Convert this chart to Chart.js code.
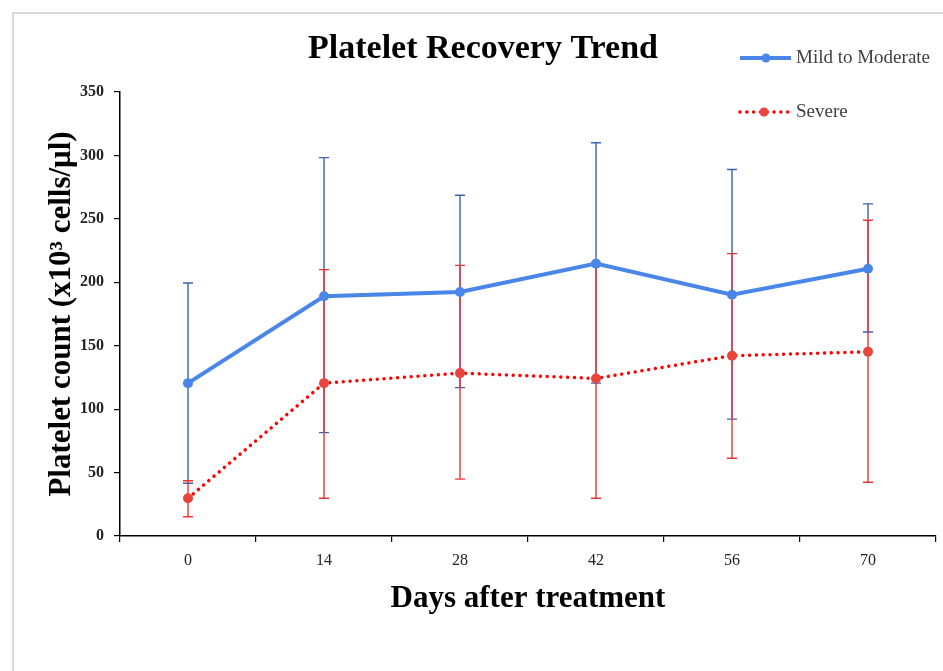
<!DOCTYPE html>
<html>
<head>
<meta charset="utf-8">
<title>Platelet Recovery Trend</title>
<script src="https://cdn.jsdelivr.net/npm/chart.js@4.4.1/dist/chart.umd.min.js"></script>
<style>
    html, body { margin: 0; padding: 0; background: #fff; }
    #wrap { width: 943px; height: 671px; }
</style>
</head>
<body>
<div id="wrap"><canvas id="plateletChart" width="943" height="671"></canvas></div>
<script>
// Days after treatment
var days = ['0', '14', '28', '42', '56', '70'];
var yTicks = [0, 50, 100, 150, 200, 250, 300, 350];

// Mild to Moderate: mean, lower and upper end of error bar
var mildMean = [120.5, 189, 192.3, 214.7, 190.2, 210.7];
var mildLow = [41.6, 81.5, 117, 120.5, 92.1, 160.8];
var mildHigh = [199.4, 298.3, 268.6, 310, 288.9, 261.8];

// Severe
var severeMean = [29.8, 120.5, 128.4, 124.2, 142.1, 145.2];
var severeLow = [15.2, 29.8, 44.8, 29.8, 61.3, 42.4];
var severeHigh = [43.6, 210, 213.3, 214.5, 222.6, 248.9];

var serif = "'Liberation Serif', 'Times New Roman', serif";

// Error bars are drawn under the lines and markers
var errorBars = {
    id: 'errorBars',
    beforeDatasetsDraw: function (chart) {
        var ctx = chart.ctx;
        var y = chart.scales.y;
        chart.data.datasets.forEach(function (ds, di) {
            var meta = chart.getDatasetMeta(di);
            ctx.save();
            ctx.strokeStyle = ds.errorColor;
            ctx.lineWidth = 1.4;
            meta.data.forEach(function (pt, i) {
                var yl = y.getPixelForValue(ds.errLow[i]);
                var yh = y.getPixelForValue(ds.errHigh[i]);
                ctx.beginPath();
                ctx.moveTo(pt.x, yl);
                ctx.lineTo(pt.x, yh);
                ctx.moveTo(pt.x - 5, yl);
                ctx.lineTo(pt.x + 5, yl);
                ctx.moveTo(pt.x - 5, yh);
                ctx.lineTo(pt.x + 5, yh);
                ctx.stroke();
            });
            ctx.restore();
        });
    }
};

// Frame, title and legend in the top right corner
var decorations = {
    id: 'decorations',
    afterDraw: function (chart) {
        var ctx = chart.ctx;
        ctx.save();
        ctx.strokeStyle = '#d9d9d9';
        ctx.lineWidth = 2;
        ctx.beginPath();
        ctx.moveTo(13, 671);
        ctx.lineTo(13, 13);
        ctx.lineTo(943, 13);
        ctx.stroke();

        ctx.fillStyle = '#000';
        ctx.font = 'bold 34px ' + serif;
        ctx.textAlign = 'center';
        ctx.textBaseline = 'middle';
        ctx.fillText('Platelet Recovery Trend', 483, 49);

        var rows = [{ y: 58, x: 766 }, { y: 112, x: 764 }];
        chart.data.datasets.forEach(function (ds, i) {
            var r = rows[i];
            ctx.strokeStyle = ds.borderColor;
            ctx.lineWidth = ds.borderWidth;
            ctx.lineCap = ds.borderCapStyle || 'butt';
            ctx.setLineDash(ds.borderDash || []);
            ctx.beginPath();
            ctx.moveTo(740, r.y);
            ctx.lineTo(i === 0 ? 791 : 788, r.y);
            ctx.stroke();
            ctx.setLineDash([]);
            ctx.fillStyle = ds.pointBackgroundColor;
            ctx.beginPath();
            ctx.arc(r.x, r.y, 4.5, 0, Math.PI * 2);
            ctx.fill();
            ctx.fillStyle = '#404040';
            ctx.font = '19px ' + serif;
            ctx.textAlign = 'left';
            ctx.fillText(ds.label, 796, r.y);
        });
        ctx.restore();
    }
};

var ctx = document.getElementById('plateletChart').getContext('2d');
var chart = new Chart(ctx, {
    type: 'line',
    data: {
        labels: days,
        datasets: [{
            label: 'Mild to Moderate',
            data: mildMean,
            errLow: mildLow,
            errHigh: mildHigh,
            errorColor: '#3b62ad',
            borderColor: '#4a86e8',
            borderWidth: 4,
            pointRadius: 5,
            pointBackgroundColor: '#4a86e8',
            pointBorderWidth: 0,
            tension: 0
        }, {
            label: 'Severe',
            data: severeMean,
            errLow: severeLow,
            errHigh: severeHigh,
            errorColor: '#f43333',
            borderColor: '#ff0000',
            borderWidth: 3.5,
            borderDash: [0.01, 6.8],
            borderCapStyle: 'round',
            pointRadius: 5,
            pointBackgroundColor: '#e8453c',
            pointBorderWidth: 0,
            tension: 0
        }]
    },
    options: {
        responsive: false,
        animation: false,
        layout: {
            padding: { top: 92, left: 0, right: 7, bottom: 0 }
        },
        plugins: {
            legend: { display: false },
            title: { display: false },
            tooltip: { enabled: false }
        },
        scales: {
            x: {
                offset: true,
                afterFit: function (scale) { scale.height = 135; },
                grid: {
                    offset: true,
                    drawOnChartArea: false,
                    color: '#000',
                    tickLength: 6,
                    lineWidth: 1.2
                },
                border: { color: '#000', width: 1.5 },
                ticks: {
                    color: '#222',
                    padding: 9,
                    font: { family: serif, size: 16 }
                },
                title: {
                    display: true,
                    text: 'Days after treatment',
                    color: '#000',
                    padding: { bottom: 53 },
                    font: { family: serif, size: 31, weight: 'bold' }
                }
            },
            y: {
                min: 0,
                max: 350,
                afterFit: function (scale) { scale.width = 120; },
                afterBuildTicks: function (scale) {
                    scale.ticks = yTicks.map(function (v) { return { value: v }; });
                },
                grid: {
                    drawOnChartArea: false,
                    color: '#000',
                    tickLength: 6,
                    lineWidth: 1.2
                },
                border: { color: '#000', width: 1.5 },
                ticks: {
                    color: '#222',
                    padding: 10,
                    font: { family: serif, size: 16, weight: 'bold' }
                },
                title: {
                    display: true,
                    text: 'Platelet count (x10\u00b3 cells/\u03bcl)',
                    color: '#000',
                    padding: { top: 43 },
                    font: { family: serif, size: 31, weight: 'bold' }
                }
            }
        }
    },
    plugins: [errorBars, decorations]
});
</script>
</body>
</html>
